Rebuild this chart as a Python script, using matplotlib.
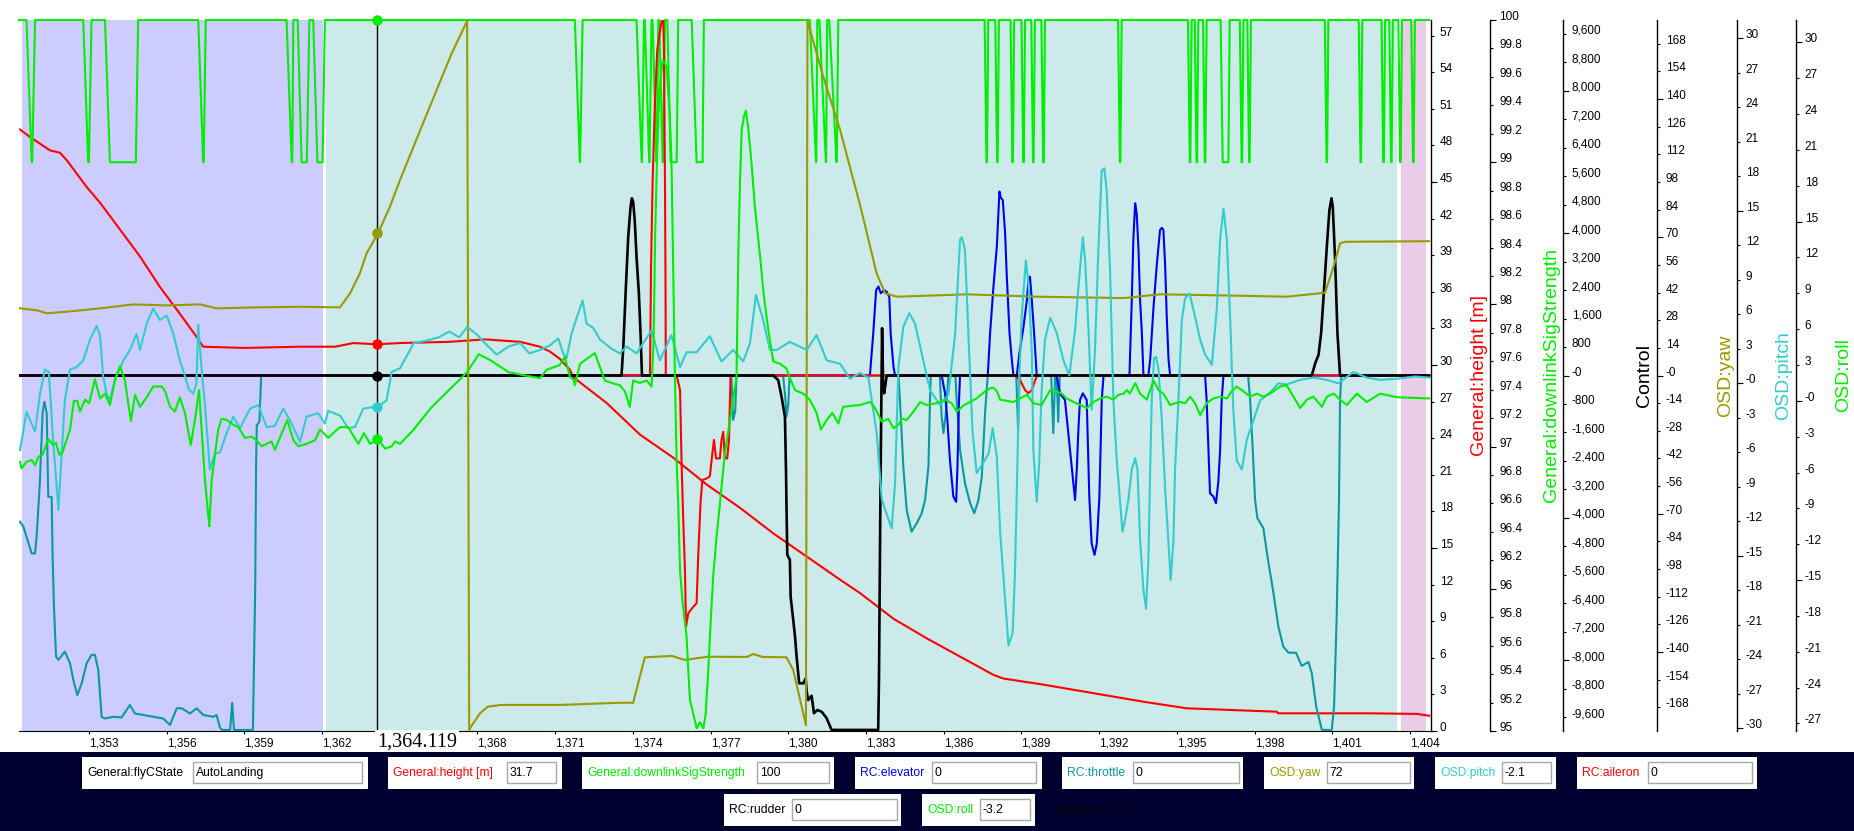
import numpy as np
import matplotlib.pyplot as plt
from matplotlib.patches import Rectangle
from matplotlib.transforms import blended_transform_factory

plt.rcParams['font.family'] = ['Liberation Sans', 'DejaVu Sans']

# ---------------- data (time in s) ----------------
t_cursor = 1364.119

state_names = ['GoHome', 'AutoLanding', 'Landing']
state_start = [1350.41, 1362.15, 1403.66]
state_end = [1362.02, 1403.48, 1404.62]

height = [(1350.34, 49.3), (1350.72, 48.7), (1351.49, 47.6), (1351.88, 47.4), (1352.14, 46.8),
          (1352.91, 44.6), (1353.43, 43.3), (1354.20, 41.1), (1354.97, 38.9), (1355.74, 36.4),
          (1356.51, 34.2), (1357.16, 32.3), (1357.41, 31.5), (1359.00, 31.4), (1361.15, 31.5),
          (1362.50, 31.5), (1363.21, 31.8), (1364.12, 31.7), (1365.00, 31.8), (1366.90, 31.9),
          (1368.30, 32.1), (1369.65, 31.9), (1370.41, 31.5), (1370.80, 31.1), (1371.18, 30.5),
          (1371.57, 29.6), (1371.70, 29.0), (1372.98, 26.9), (1374.27, 24.3), (1375.56, 22.4),
          (1376.85, 20.2), (1378.13, 18.3), (1379.42, 16.2), (1380.71, 14.3), (1382.00, 12.4),
          (1382.77, 11.3), (1384.06, 9.2), (1385.34, 7.6), (1386.63, 6.1), (1387.92, 4.6),
          (1388.30, 4.3), (1389.85, 3.8), (1391.78, 3.1), (1393.71, 2.4), (1395.38, 1.86),
          (1398.86, 1.58), (1398.90, 1.45), (1402.46, 1.45), (1404.28, 1.40), (1404.74, 1.25)]

# downlink drops from 100 to 99: (leave 100, reach 99, leave 99, back at 100)
downlink_dips = [(1350.59, 1350.79, 1350.81, 1350.92), (1352.78, 1352.97, 1353.00, 1353.10),
                 (1353.62, 1353.81, 1354.81, 1354.90), (1357.22, 1357.41, 1357.43, 1357.51),
                 (1360.63, 1360.83, 1360.85, 1360.89), (1361.06, 1361.21, 1361.41, 1361.51),
                 (1361.66, 1361.82, 1362.02, 1362.11), (1371.76, 1371.95, 1371.96, 1372.06),
                 (1374.14, 1374.34, 1374.35, 1374.43), (1374.46, 1374.63, 1374.64, 1374.72),
                 (1374.76, 1374.91, 1374.92, 1374.98), (1375.02, 1375.15, 1375.16, 1375.24),
                 (1375.33, 1375.46, 1375.69, 1375.75), (1376.27, 1376.46, 1376.69, 1376.74),
                 (1380.83, 1381.07, 1381.08, 1381.12), (1381.20, 1381.45, 1381.46, 1381.50),
                 (1381.58, 1381.86, 1381.87, 1381.93), (1387.58, 1387.65, 1387.67, 1387.72),
                 (1387.99, 1388.06, 1388.08, 1388.13), (1388.58, 1388.65, 1388.67, 1388.72),
                 (1389.00, 1389.07, 1389.09, 1389.14), (1389.38, 1389.45, 1389.47, 1389.52),
                 (1389.77, 1389.84, 1389.86, 1389.91), (1392.73, 1392.80, 1392.82, 1392.87),
                 (1395.43, 1395.50, 1395.52, 1395.57), (1395.69, 1395.76, 1395.78, 1395.83),
                 (1396.01, 1396.08, 1396.10, 1396.15), (1396.69, 1396.77, 1396.99, 1397.04),
                 (1397.43, 1397.50, 1397.52, 1397.57), (1397.72, 1397.79, 1397.81, 1397.86),
                 (1400.71, 1400.78, 1400.80, 1400.85), (1402.02, 1402.09, 1402.11, 1402.16),
                 (1402.90, 1402.97, 1402.99, 1403.04), (1403.20, 1403.27, 1403.29, 1403.34),
                 (1403.55, 1403.62, 1403.64, 1403.69), (1404.05, 1404.12, 1404.14, 1404.19)]

yaw = [(1350.34, 34.0), (1351.00, 33.0), (1351.37, 31.5), (1352.14, 32.3), (1353.43, 34.0),
       (1354.71, 36.0), (1356.00, 35.5), (1357.29, 36.0), (1357.93, 34.0), (1359.50, 34.5),
       (1361.15, 34.8), (1362.69, 34.5), (1363.08, 41.6), (1363.46, 51.7), (1363.72, 61.9),
       (1364.16, 72.0), (1364.62, 85.5), (1365.01, 99.0), (1366.00, 131.0), (1367.00, 163.0),
       (1367.60, 179.5), (1367.68, -179.5), (1367.75, -177.8), (1368.10, -171.0), (1368.40, -167.7),
       (1368.90, -166.8), (1371.20, -166.8), (1373.50, -165.7), (1374.01, -165.7), (1374.46, -142.7),
       (1375.50, -142.0), (1376.00, -144.0), (1376.90, -142.4), (1378.40, -142.5), (1378.65, -141.0),
       (1379.00, -142.5), (1379.93, -142.7), (1380.19, -149.1), (1380.68, -177.0), (1380.74, 179.5),
       (1381.35, 151.3), (1382.00, 124.3), (1382.77, 86.3), (1383.41, 51.7), (1383.74, 41.6),
       (1384.19, 39.9), (1386.90, 41.1), (1389.60, 39.9), (1392.94, 39.2), (1394.35, 41.1),
       (1397.00, 40.5), (1399.24, 39.9), (1400.72, 41.9), (1401.05, 55.1), (1401.30, 66.9),
       (1401.50, 67.7), (1404.74, 68.0)]

pitch = [(1350.34, -5.8), (1350.59, -2.5), (1350.92, -4.2), (1351.11, -0.9), (1351.30, 1.2),
         (1351.45, 1.0), (1351.62, -5.0), (1351.82, -11.0), (1351.95, -6.0), (1352.07, -1.5),
         (1352.20, 0.3), (1352.27, 1.2), (1352.52, 1.4), (1352.78, 2.0), (1353.04, 3.8),
         (1353.30, 5.0), (1353.43, 4.1), (1353.55, 0.6), (1353.68, -0.9), (1353.81, -1.5),
         (1354.00, 0.3), (1354.33, 2.0), (1354.58, 2.9), (1354.84, 4.3), (1354.97, 2.9),
         (1355.23, 5.2), (1355.48, 6.5), (1355.74, 5.5), (1356.00, 5.9), (1356.26, 4.3),
         (1356.51, 2.0), (1356.71, 0.6), (1356.85, -0.5), (1357.03, -0.9), (1357.15, 0.0),
         (1357.22, 5.1), (1357.35, 1.2), (1357.48, -1.9), (1357.67, -7.5), (1357.87, -6.1),
         (1358.06, -6.0), (1358.32, -4.3), (1358.57, -2.9), (1358.83, -3.9), (1359.22, -2.2),
         (1359.54, -1.9), (1359.86, -3.8), (1360.18, -3.7), (1360.50, -2.2), (1360.76, -3.2),
         (1361.15, -5.1), (1361.40, -2.9), (1361.85, -2.6), (1362.11, -3.5), (1362.24, -2.4),
         (1362.69, -2.8), (1363.01, -3.9), (1363.27, -3.8), (1363.59, -2.2), (1364.16, -2.0),
         (1364.49, -1.5), (1364.69, 1.0), (1365.01, 1.3), (1365.30, 2.5), (1365.54, 3.5),
         (1366.00, 3.7), (1366.50, 4.0), (1366.91, 4.5), (1367.30, 4.0), (1367.60, 4.9),
         (1368.00, 4.2), (1368.28, 3.5), (1368.74, 2.5), (1369.20, 3.2), (1369.65, 3.5),
         (1370.00, 2.6), (1370.41, 2.9), (1370.80, 3.3), (1371.12, 3.9), (1371.31, 2.6),
         (1371.44, 2.2), (1371.63, 4.3), (1371.83, 5.7), (1372.06, 7.2), (1372.21, 5.2),
         (1372.47, 4.8), (1372.73, 3.8), (1373.18, 3.0), (1373.50, 2.6), (1373.76, 3.2),
         (1374.14, 2.6), (1374.40, 3.5), (1374.72, 4.6), (1375.04, 2.0), (1375.49, 4.2),
         (1375.82, 1.4), (1376.07, 2.7), (1376.46, 2.7), (1376.97, 4.1), (1377.42, 1.9),
         (1377.87, 2.9), (1378.26, 1.9), (1378.52, 3.5), (1378.75, 7.7), (1379.03, 5.5),
         (1379.29, 2.9), (1379.55, 2.9), (1380.06, 3.6), (1380.71, 2.9), (1381.09, 4.2),
         (1381.48, 2.0), (1382.00, 1.7), (1382.38, 0.4), (1382.77, 0.9), (1383.09, 0.5),
         (1383.41, -4.3), (1383.61, -10.1), (1383.74, -11.0), (1383.99, -12.6), (1384.12, -8.7),
         (1384.25, 1.4), (1384.44, 4.9), (1384.67, 6.1), (1384.89, 5.2), (1385.15, 2.6),
         (1385.47, -0.6), (1385.86, -1.9), (1386.18, -1.0), (1386.44, 4.3), (1386.63, 12.5),
         (1386.70, 12.7), (1386.82, 11.6), (1386.95, 4.4), (1387.11, -4.1), (1387.27, -7.8),
         (1387.53, -6.9), (1387.73, -6.1), (1387.89, -3.9), (1388.05, -6.4), (1388.18, -13.0),
         (1388.37, -18.8), (1388.50, -22.8), (1388.66, -21.7), (1388.75, -16.5), (1388.82, -9.5),
         (1388.91, 0.0), (1389.01, 5.8), (1389.17, 10.7), (1389.27, 8.7), (1389.40, 2.9),
         (1389.46, -5.8), (1389.59, -10.3), (1389.68, -7.2), (1389.78, -0.6), (1389.91, 3.8),
         (1390.11, 5.7), (1390.36, 4.4), (1390.62, 2.0), (1390.85, 0.7), (1391.07, 4.6),
         (1391.20, 8.4), (1391.37, 12.7), (1391.46, 10.7), (1391.59, 4.6), (1391.71, -2.3),
         (1391.84, 2.9), (1391.97, 11.6), (1392.10, 18.5), (1392.20, 18.7), (1392.29, 16.8),
         (1392.42, 9.9), (1392.55, -1.5), (1392.68, -6.7), (1392.90, -12.9), (1393.00, -11.9),
         (1393.13, -10.1), (1393.26, -7.5), (1393.39, -6.5), (1393.48, -7.5), (1393.58, -13.6),
         (1393.71, -18.0), (1393.81, -19.6), (1393.90, -15.4), (1393.97, -7.5), (1394.03, -1.5),
         (1394.12, 2.2), (1394.20, 2.3), (1394.29, 1.2), (1394.42, -3.2), (1394.55, -9.3),
         (1394.67, -13.6), (1394.76, -17.1), (1394.87, -13.6), (1394.93, -7.5), (1395.06, -1.5),
         (1395.19, 5.5), (1395.32, 7.4), (1395.49, 7.8), (1395.64, 6.4), (1395.90, 3.8),
         (1396.09, 2.5), (1396.35, 1.6), (1396.54, 6.4), (1396.67, 12.5), (1396.80, 15.2),
         (1396.93, 12.5), (1397.06, 5.5), (1397.18, -2.3), (1397.31, -6.7), (1397.51, -7.5),
         (1397.70, -4.9), (1397.96, -3.2), (1398.21, -1.5), (1398.60, -0.8), (1398.92, 0.0),
         (1399.24, -0.1), (1399.76, 0.3), (1400.27, 0.5), (1400.79, 0.3), (1401.24, 0.0),
         (1401.82, 1.0), (1402.33, 0.5), (1402.85, 0.3), (1403.50, 0.4), (1404.20, 0.6),
         (1404.74, 0.5)]

roll = [(1350.34, -5.1), (1350.40, -5.65), (1350.59, -5.1), (1350.79, -4.95), (1350.92, -5.4),
        (1351.04, -4.7), (1351.21, -4.5), (1351.43, -3.2), (1351.62, -3.7), (1351.73, -3.5),
        (1351.85, -4.5), (1351.98, -4.3), (1352.27, -2.4), (1352.42, 0.0), (1352.55, 0.0),
        (1352.65, -0.9), (1352.85, 0.1), (1353.01, -0.2), (1353.23, 1.8), (1353.43, 0.2),
        (1353.62, 0.6), (1353.81, -0.35), (1354.00, 1.7), (1354.20, 2.9), (1354.39, 1.7),
        (1354.62, -1.7), (1354.78, 0.5), (1354.97, -0.5), (1355.23, 0.3), (1355.48, 1.2),
        (1355.81, 1.2), (1355.94, 0.8), (1356.13, -0.5), (1356.32, -0.9), (1356.51, 0.3),
        (1356.71, -1.05), (1356.93, -3.7), (1357.09, -1.6), (1357.25, 0.9), (1357.35, -2.4),
        (1357.48, -6.6), (1357.61, -9.7), (1357.65, -10.5), (1357.74, -6.6), (1357.87, -4.4),
        (1357.99, -2.4), (1358.12, -1.5), (1358.32, -1.6), (1358.57, -2.0), (1358.77, -2.2),
        (1359.02, -3.1), (1359.28, -3.0), (1359.47, -3.3), (1359.67, -3.8), (1359.86, -3.6),
        (1360.05, -3.4), (1360.18, -4.1), (1360.37, -3.1), (1360.66, -1.6), (1360.89, -3.3),
        (1361.08, -3.8), (1361.40, -3.6), (1361.73, -3.3), (1361.92, -2.4), (1362.24, -3.1),
        (1362.43, -2.7), (1362.69, -2.2), (1363.01, -2.2), (1363.40, -3.6), (1363.62, -2.7),
        (1363.85, -3.6), (1364.16, -3.2), (1364.43, -4.0), (1364.69, -3.8), (1364.82, -3.4),
        (1365.01, -3.6), (1365.50, -2.5), (1366.20, -0.6), (1366.90, 0.9), (1367.60, 2.4),
        (1368.05, 3.9), (1368.50, 3.4), (1369.20, 2.4), (1369.88, 2.1), (1370.41, 1.9),
        (1370.67, 2.6), (1371.18, 3.0), (1371.37, 3.7), (1371.57, 2.0), (1371.70, 1.8),
        (1371.76, 1.3), (1371.96, 3.1), (1372.34, 3.7), (1372.53, 4.0), (1372.73, 2.8),
        (1372.92, 1.7), (1373.18, 1.5), (1373.50, 1.3), (1373.69, 0.8), (1373.88, -0.5),
        (1374.01, 1.7), (1374.27, 1.5), (1374.53, 1.7), (1374.72, 1.2), (1374.80, 5.0),
        (1374.86, 14.0), (1374.94, 21.0), (1375.02, 26.0), (1375.15, 28.5), (1375.30, 28.0),
        (1375.42, 24.0), (1375.49, 20.0), (1375.62, 2.4), (1375.69, -5.2), (1375.75, -8.6),
        (1375.82, -14.2), (1375.92, -16.9), (1376.07, -19.7), (1376.20, -25.0), (1376.46, -27.4),
        (1376.59, -26.9), (1376.72, -27.4), (1376.81, -26.2), (1376.91, -22.5), (1377.00, -18.6),
        (1377.10, -14.7), (1377.23, -11.4), (1377.36, -8.6), (1377.55, -4.4), (1377.75, -1.6),
        (1377.94, 1.2), (1378.00, 2.0), (1378.07, 12.3), (1378.13, 17.9), (1378.20, 22.7),
        (1378.29, 23.8), (1378.36, 24.3), (1378.45, 22.9), (1378.58, 19.9), (1378.71, 16.2),
        (1378.90, 12.3), (1379.06, 8.7), (1379.23, 5.9), (1379.42, 3.3), (1379.68, 3.1),
        (1379.93, 2.7), (1380.06, 1.9), (1380.26, 0.9), (1380.58, 0.6), (1380.83, 0.1),
        (1381.09, -1.0), (1381.26, -2.4), (1381.48, -1.6), (1381.70, -1.0), (1381.93, -1.9),
        (1382.12, -0.5), (1382.51, -0.4), (1382.77, -0.35), (1383.16, -0.1), (1383.35, -0.6),
        (1383.61, -1.75), (1383.86, -1.5), (1384.06, -2.3), (1384.25, -2.0), (1384.38, -1.5),
        (1384.57, -1.6), (1384.83, -0.9), (1385.09, -0.1), (1385.34, -0.35), (1385.73, -0.2),
        (1386.05, 0.1), (1386.31, -0.2), (1386.50, -0.9), (1386.76, -0.4), (1387.27, 0.2),
        (1387.60, 0.8), (1387.79, 1.05), (1387.92, 1.1), (1388.05, 0.8), (1388.18, 0.1),
        (1388.43, 0.0), (1388.69, -0.1), (1388.95, 0.2), (1389.21, 0.5), (1389.46, -0.2),
        (1389.78, -0.35), (1390.11, 0.9), (1390.36, 0.8), (1390.56, 0.6), (1390.75, 0.2),
        (1391.01, -0.1), (1391.26, -0.35), (1391.52, -0.6), (1391.78, -0.1), (1392.04, 0.2),
        (1392.29, 0.35), (1392.55, 0.1), (1392.74, 0.5), (1392.94, 0.6), (1393.07, 0.9),
        (1393.19, 0.6), (1393.39, 1.5), (1393.58, 0.6), (1393.84, 0.1), (1394.10, 1.7),
        (1394.29, 0.9), (1394.48, 0.6), (1394.74, -0.35), (1394.93, -0.2), (1395.13, -0.1),
        (1395.32, -0.2), (1395.51, 0.35), (1395.70, -0.2), (1395.90, -1.2), (1396.15, -0.2),
        (1396.41, 0.2), (1396.67, 0.35), (1396.93, 0.2), (1397.12, 0.8), (1397.31, 1.2),
        (1397.57, 0.8), (1397.83, 0.35), (1398.09, 0.6), (1398.34, 0.35), (1398.60, 0.6),
        (1398.86, 1.0), (1398.99, 1.2), (1399.24, 1.3), (1399.50, 0.35), (1399.76, -0.6),
        (1400.02, 0.1), (1400.27, 0.35), (1400.60, -0.5), (1400.79, 0.35), (1401.05, 0.6),
        (1401.30, 0.1), (1401.56, -0.35), (1401.95, 0.6), (1402.33, -0.1), (1402.85, 0.6),
        (1403.50, 0.3), (1404.74, 0.2)]

throttle = [(1350.34, -4110), (1350.47, -4250), (1350.59, -4530), (1350.79, -5000), (1350.92, -5000),
            (1350.98, -4530), (1351.11, -2940), (1351.21, -1060), (1351.28, -740), (1351.37, -1060),
            (1351.43, -3410), (1351.56, -3410), (1351.60, -5180), (1351.65, -6500), (1351.73, -7900),
            (1351.82, -7990), (1352.07, -7760), (1352.27, -8090), (1352.40, -8560), (1352.55, -8980),
            (1352.72, -8650), (1352.91, -8090), (1353.10, -7850), (1353.23, -7850), (1353.36, -8270),
            (1353.49, -9590), (1353.62, -9640), (1353.94, -9590), (1354.26, -9610), (1354.58, -9260),
            (1354.78, -9500), (1355.10, -9540), (1355.87, -9640), (1356.13, -9820), (1356.39, -9350),
            (1356.58, -9350), (1356.90, -9500), (1357.16, -9350), (1357.41, -9540), (1357.80, -9590),
            (1357.93, -9540), (1358.06, -9900), (1358.15, -9960), (1358.45, -9960), (1358.53, -9200),
            (1358.60, -9960), (1359.33, -9960), (1359.42, -5930), (1359.45, -2660), (1359.48, -1400),
            (1359.58, -1300), (1359.65, 0), (1377.80, 0), (1377.87, -1250), (1377.95, -1000),
            (1378.00, 0), (1379.80, 0), (1379.88, -600), (1379.93, -1150), (1380.00, -800),
            (1380.05, 0), (1384.25, 0), (1384.31, -690), (1384.44, -2560), (1384.57, -3780),
            (1384.76, -4390), (1384.96, -4150), (1385.15, -3870), (1385.28, -3500), (1385.41, -2560),
            (1385.47, -690), (1385.50, 0), (1385.85, 0), (1385.92, -1160), (1385.99, -1620),
            (1386.09, -1000), (1386.18, 0), (1386.45, 0), (1386.50, -700), (1386.63, -2090),
            (1386.82, -3030), (1387.02, -3590), (1387.18, -3870), (1387.34, -3500), (1387.47, -2840),
            (1387.60, -1000), (1387.70, 0), (1388.80, 0), (1388.87, -1500), (1388.93, 0),
            (1390.15, 0), (1390.23, -1620), (1390.30, 0), (1390.36, 0), (1390.42, -1300),
            (1390.48, 0), (1397.75, 0), (1397.83, -690), (1397.93, -2090), (1398.02, -3500),
            (1398.11, -4010), (1398.34, -4290), (1398.50, -5090), (1398.73, -6120), (1398.92, -7060),
            (1399.11, -7620), (1399.31, -7790), (1399.60, -7790), (1399.82, -8160), (1400.08, -8050),
            (1400.21, -8370), (1400.38, -9310), (1400.60, -9960), (1400.98, -9960), (1401.07, -9300),
            (1401.17, -6780), (1401.26, -3500), (1401.30, -690), (1401.35, 0), (1404.74, 0)]

elevator = [(1350.34, 0), (1383.15, 0), (1383.28, 1190), (1383.39, 2400), (1383.48, 2500),
            (1383.57, 2310), (1383.70, 2400), (1383.80, 2350), (1383.90, 2200), (1383.95, 1190),
            (1384.06, 250), (1384.12, 0), (1385.92, 0), (1386.05, -500), (1386.14, -1250),
            (1386.24, -2380), (1386.37, -3400), (1386.48, -3550), (1386.53, -2560), (1386.59, -700),
            (1386.63, 0), (1387.70, 0), (1387.79, 1190), (1387.92, 2500), (1388.05, 3620),
            (1388.15, 5170), (1388.20, 5000), (1388.28, 4930), (1388.37, 4000), (1388.43, 2870),
            (1388.54, 1190), (1388.63, 440), (1388.69, 0), (1388.82, 0), (1388.92, 620),
            (1389.08, 1370), (1389.21, 2120), (1389.27, 2680), (1389.33, 2780), (1389.40, 2120),
            (1389.49, 1190), (1389.59, 0), (1390.36, 0), (1390.49, -500), (1390.68, -690),
            (1390.81, -1620), (1390.94, -2560), (1391.07, -3500), (1391.14, -2600), (1391.20, -1500),
            (1391.26, -690), (1391.37, -500), (1391.52, -690), (1391.62, -3400), (1391.71, -4720),
            (1391.82, -5040), (1391.91, -4720), (1392.01, -3400), (1392.10, -690), (1392.17, 0),
            (1393.17, 0), (1393.26, 2120), (1393.32, 3810), (1393.39, 4840), (1393.45, 4560),
            (1393.52, 3530), (1393.58, 2120), (1393.65, 1190), (1393.71, 0), (1393.90, 0),
            (1393.97, 440), (1394.10, 1930), (1394.22, 3060), (1394.35, 4090), (1394.42, 4150),
            (1394.48, 4090), (1394.55, 3060), (1394.61, 1650), (1394.68, 440), (1394.74, 0),
            (1396.09, 0), (1396.15, -690), (1396.22, -2090), (1396.28, -3310), (1396.41, -3400),
            (1396.51, -3590), (1396.60, -3000), (1396.67, -2090), (1396.73, -690), (1396.80, 0),
            (1404.74, 0)]

aileron = [(1350.34, 0), (1374.66, 0), (1374.70, 3060), (1374.76, 5400), (1374.85, 7650),
           (1374.94, 9150), (1375.07, 9800), (1375.15, 10100), (1375.17, 10100), (1375.20, 9050),
           (1375.24, 5300), (1375.26, 2500), (1375.27, 0), (1375.69, 0), (1375.82, -410),
           (1375.88, -2460), (1375.94, -3970), (1376.01, -5470), (1376.05, -7060), (1376.14, -6680),
           (1376.33, -6500), (1376.46, -6400), (1376.52, -5090), (1376.61, -3590), (1376.68, -2940),
           (1376.85, -2890), (1376.97, -2840), (1377.04, -2370), (1377.13, -1810), (1377.21, -2330),
           (1377.36, -2330), (1377.42, -1810), (1377.49, -1580), (1377.55, -2330), (1377.64, -2330),
           (1377.71, -1810), (1377.75, -600), (1377.77, 0), (1388.75, 0), (1388.95, -130),
           (1389.14, -410), (1389.27, -500), (1389.40, -410), (1389.53, -130), (1389.62, 0),
           (1404.74, 0)]

rudder = [(1350.34, 0), (1373.56, 0), (1373.63, 810), (1373.73, 2500), (1373.82, 3900),
          (1373.91, 4740), (1373.96, 4980), (1374.01, 4880), (1374.07, 4370), (1374.14, 3340),
          (1374.23, 2310), (1374.30, 1090), (1374.35, 0), (1379.42, 0), (1379.61, -130),
          (1379.74, -600), (1379.87, -1160), (1379.91, -2660), (1379.93, -3690), (1379.96, -5040),
          (1380.06, -5180), (1380.09, -6220), (1380.19, -6870), (1380.26, -7340), (1380.32, -7900),
          (1380.42, -8650), (1380.58, -8650), (1380.67, -8510), (1380.71, -8890), (1380.77, -9120),
          (1380.90, -9000), (1380.99, -9490), (1381.12, -9400), (1381.29, -9450), (1381.48, -9630),
          (1381.67, -9960), (1383.47, -9960), (1383.50, -8560), (1383.56, -3000), (1383.62, 1330),
          (1383.66, -200), (1383.70, -500), (1383.74, -300), (1383.80, 0), (1400.21, 0),
          (1400.34, 340), (1400.47, 580), (1400.57, 1190), (1400.69, 2500), (1400.79, 3620),
          (1400.89, 4650), (1400.97, 4980), (1401.02, 4740), (1401.11, 3250), (1401.20, 1190),
          (1401.30, 0), (1404.74, 0)]

# values shown in the info panel at the cursor
panel_names = ['General:flyCState', 'General:height [m]', 'General:downlinkSigStrength',
               'RC:elevator', 'RC:throttle', 'OSD:yaw', 'OSD:pitch', 'RC:aileron',
               'RC:rudder', 'OSD:roll']
panel_values = ['AutoLanding', '31.7', '100', '0', '0', '72', '-2.1', '0', '0', '-3.2']
cursor_height, cursor_downlink, cursor_control = 31.7, 100, 0
cursor_yaw, cursor_pitch, cursor_roll = 72, -2.1, -3.2

x_ticks = list(range(1353, 1405, 3))
height_ticks = list(range(0, 58, 3))
downlink_ticks = [round(95 + 0.2 * i, 1) for i in range(26)]
control_ticks = list(range(-9600, 9601, 800))
yaw_ticks = list(range(-168, 169, 14))
pitch_ticks = list(range(-30, 31, 3))
roll_ticks = list(range(-27, 31, 3))

# ---------------- style ----------------
RED, GREEN, BLUE = '#ff0000', '#00ee00', '#0000ee'
TEAL, CYAN, OLIVE, BLACK = '#0a98a3', '#33cccc', '#999900', '#000000'
state_colors = ['#ccccff', '#cceaea', '#e8cce8']
NAVY = '#000030'
panel_colors = [BLACK, RED, GREEN, BLUE, TEAL, OLIVE, CYAN, RED, BLACK, GREEN]

W, H = 1854, 831
L, R, T, B = 19, 1430.7, 20, 731
LW = 1.5


def xy(series):
    t, v = zip(*series)
    return np.array(t), np.array(v)


def fmt(v, zero='-0'):
    if v == 0:
        return zero
    if float(v).is_integer():
        return f'{int(v):,}'
    return f'{v:g}'


def style_axis(a, ticks, major, lim, zero='-0'):
    a.set_ylim(lim)
    a.set_yticks(ticks)
    a.set_yticklabels([fmt(v, zero) for v in ticks])
    a.set_yticks(major, minor=True)
    a.yaxis.remove_overlapping_locs = False
    a.tick_params(axis='y', which='major', direction='out', length=2.2, width=0.8, pad=4.3,
                  labelsize=8.5, right=True, left=False, labelright=True, labelleft=False)
    a.tick_params(axis='y', which='minor', direction='out', length=4.5, width=0.8,
                  right=True, left=False)
    plt.setp(a.get_yticklabels(), va='baseline')
    a.spines['right'].set_linewidth(1.0)


def side_axis(offset_px):
    a = ax.twinx()
    for s in ('left', 'top', 'bottom'):
        a.spines[s].set_visible(False)
    a.spines['right'].set_position(('axes', 1 + offset_px / (R - L)))
    return a


fig = plt.figure(figsize=(W / 100, H / 100), dpi=100)
ax = fig.add_axes([L / W, 1 - B / H, (R - L) / W, (B - T) / H])

ax_dl = side_axis(1490 - R)
ax_c = side_axis(1562.7 - R)
ax_yaw = side_axis(1656.7 - R)
ax_p = side_axis(1736.7 - R)
ax_r = side_axis(1795.7 - R)

ax.set_xlim(1350.30, 1404.80)
for s in ('left', 'top'):
    ax.spines[s].set_visible(False)
ax.yaxis.tick_right()
style_axis(ax, height_ticks, [0, 15, 30, 45], (0, 58.28), zero='0')
style_axis(ax_dl, downlink_ticks, [95, 96, 97, 98, 99, 100], (95, 100), zero='0')
style_axis(ax_c, control_ticks, [-8000, -4000, 0, 4000, 8000], (-9990, 9990))
style_axis(ax_yaw, yaw_ticks, [-140, -70, 0, 70, 140], (-180, 180))
style_axis(ax_p, pitch_ticks, [-30, -15, 0, 15, 30], (-30.23, 31.59))
style_axis(ax_r, roll_ticks, [-15, 0, 15, 30], (-27.63, 31.87))

# the cursor read-out box hides the tick label just right of the cursor
ax.set_xticks(x_ticks)
ax.set_xticklabels(['' if 0 < v - t_cursor < 3.5 else f'{v:,}' for v in x_ticks])
plt.setp(ax.get_xticklabels(), ha='left')
ax.tick_params(axis='x', direction='out', length=2.5, width=0.8, pad=2.0, labelsize=8.5)

# flight-state background bands
for s0, s1, c in zip(state_start, state_end, state_colors):
    ax.axvspan(s0, s1, color=c, lw=0, zorder=0)

# series
t, v = xy(height)
ax.plot(t, v, color=RED, lw=LW, zorder=2)
ax.axvline(t_cursor, color=BLACK, lw=1.0, zorder=3)

dl_t, dl_v = [1350.30], [100]
for a0, a1, a2, a3 in downlink_dips:
    dl_t += [a0, a1, a2, a3]
    dl_v += [100, 99, 99, 100]
dl_t.append(1404.74)
dl_v.append(100)
ax_dl.plot(dl_t, dl_v, color=GREEN, lw=LW, clip_on=False)

for series, col, w in ((throttle, TEAL, LW), (elevator, BLUE, LW), (aileron, RED, LW), (rudder, BLACK, 1.9)):
    t, v = xy(series)
    ax_c.plot(t, v, color=col, lw=w)

t, v = xy(yaw)
ax_yaw.plot(t, v, color=OLIVE, lw=LW)
t, v = xy(pitch)
ax_p.plot(t, v, color=CYAN, lw=LW)
t, v = xy(roll)
ax_r.plot(t, v, color=GREEN, lw=LW)

# cursor markers
ms = 6.5
ax.plot(t_cursor, cursor_height, 'o', color=RED, ms=ms, zorder=4)
ax_dl.plot(t_cursor, cursor_downlink, 'o', color=GREEN, ms=ms, clip_on=False)
ax_c.plot(t_cursor, cursor_control, 'o', color=BLACK, ms=ms)
ax_yaw.plot(t_cursor, cursor_yaw, 'o', color=OLIVE, ms=ms)
ax_p.plot(t_cursor, cursor_pitch, 'o', color=CYAN, ms=ms)
ax_r.plot(t_cursor, cursor_roll, 'o', color=GREEN, ms=ms)

ax_r.text(t_cursor, -0.002, f'{t_cursor:,.3f}', transform=blended_transform_factory(ax_r.transData, ax_r.transAxes),
          ha='left', va='top', fontsize=14.5, family=['Liberation Serif', 'DejaVu Serif'],
          bbox=dict(facecolor='white', edgecolor='none', pad=1.5), clip_on=False, zorder=20)

# rotated axis titles
for label, x, col in (('General:height [m]', 1479, RED), ('General:downlinkSigStrength', 1551.7, GREEN),
                      ('Control', 1645, BLACK), ('OSD:yaw', 1726, OLIVE),
                      ('OSD:pitch', 1784, CYAN), ('OSD:roll', 1843.3, GREEN)):
    fig.text(x / W, 1 - 375.5 / H, label, rotation=90, ha='center', va='center', fontsize=14, color=col)

# ---------------- info panel ----------------
ov = fig.add_axes([0, 0, 1, 1])
ov.set_xlim(0, W)
ov.set_ylim(H, 0)
ov.axis('off')
ov.patch.set_visible(False)
ov.add_patch(Rectangle((0, 752), W, H - 752, facecolor=NAVY, edgecolor='none'))

box_x = [(82, 368), (388.5, 561.7), (582.4, 834.5), (855.3, 1042), (1061.7, 1243.4),
         (1264, 1414.3), (1435, 1556), (1577, 1757), (723.6, 901.5), (922, 1035)]
field_x = [(193, 362), (507, 556), (757.4, 829.2), (932, 1036), (1133, 1238.6),
           (1326.8, 1409.6), (1502, 1551), (1648, 1752), (791.8, 896.8), (980, 1030)]
rows = [0, 0, 0, 0, 0, 0, 0, 0, 1, 1]
row_box = [(757, 789), (794, 826)]
row_field = [(762.3, 783.3), (799.3, 820)]

for name, val, col, bx, fx, r in zip(panel_names, panel_values, panel_colors, box_x, field_x, rows):
    y0, y1 = row_box[r]
    ov.add_patch(Rectangle((bx[0], y0), bx[1] - bx[0], y1 - y0, facecolor='white', edgecolor='none'))
    f0, f1 = row_field[r]
    ov.add_patch(Rectangle((fx[0], f0), fx[1] - fx[0], f1 - f0, facecolor='white',
                           edgecolor='#a8a8a8', lw=1.0))
    yc = (f0 + f1) / 2
    ov.text(bx[0] + 5, yc, name, color=col, fontsize=8.7, ha='left', va='center')
    ov.text(fx[0] + 3, yc, val, color=BLACK, fontsize=8.7, ha='left', va='center')

ov.text(1054, 811, 'Version 3.7.1', color='#000000', fontsize=9, ha='left', va='center')

fig.savefig('out.png', dpi=100)
